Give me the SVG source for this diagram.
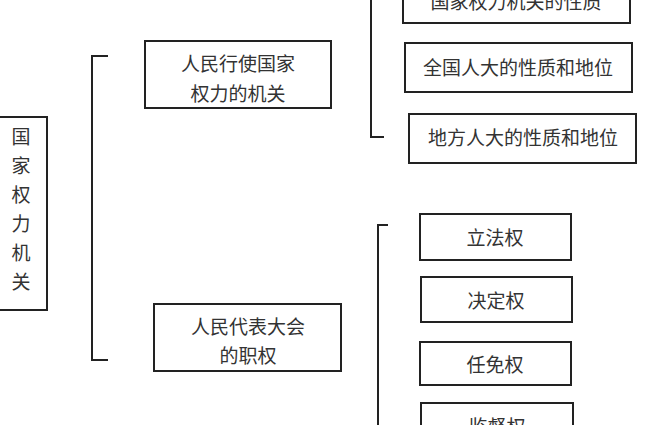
<svg xmlns="http://www.w3.org/2000/svg" width="645" height="425" viewBox="0 0 645 425">
<style>
rect{fill:#fff;stroke:#222;stroke-width:2}
path{fill:none;stroke:#222;stroke-width:2}
text{font-family:"Noto Sans CJK SC",sans-serif;font-size:19px;fill:#333;text-anchor:middle;dominant-baseline:central}
</style>
<rect width="645" height="425" style="fill:#fff;stroke:none"/>
<g id="connectors">
<path d="M108,56 H92 V360 H108"/>
<path d="M384,-5 H371 V137 H384"/>
<path d="M388,225 H378 V430"/>
</g>
<g id="root"><rect x="-2" y="117" width="49" height="193"/>
<text x="21" y="135">国</text><text x="21" y="164">家</text><text x="21" y="193">权</text><text x="21" y="222">力</text><text x="21" y="251">机</text><text x="21" y="280">关</text></g>
<g id="n1"><rect x="145" y="41" width="186" height="67"/><text x="238" y="62">人民行使国家</text><text x="238" y="92">权力的机关</text></g>
<g id="n2"><rect x="154" y="304" width="187" height="67"/><text x="248" y="325">人民代表大会</text><text x="248" y="354">的职权</text></g>
<g id="n3"><rect x="403" y="-30" width="227" height="53"/><text x="516" y="0">国家权力机关的性质</text></g>
<g id="n4"><rect x="405" y="43" width="227" height="49"/><text x="518" y="66">全国人大的性质和地位</text></g>
<g id="n5"><rect x="409" y="114" width="227" height="49"/><text x="523" y="136">地方人大的性质和地位</text></g>
<g id="n6"><rect x="420" y="214" width="151" height="46"/><text x="495" y="236">立法权</text></g>
<g id="n7"><rect x="421" y="277" width="151" height="45"/><text x="496" y="299">决定权</text></g>
<g id="n8"><rect x="420" y="342" width="151" height="43"/><text x="495" y="363">任免权</text></g>
<g id="n9"><rect x="421" y="403" width="152" height="45"/><text x="497" y="425">监督权</text></g>
</svg>
